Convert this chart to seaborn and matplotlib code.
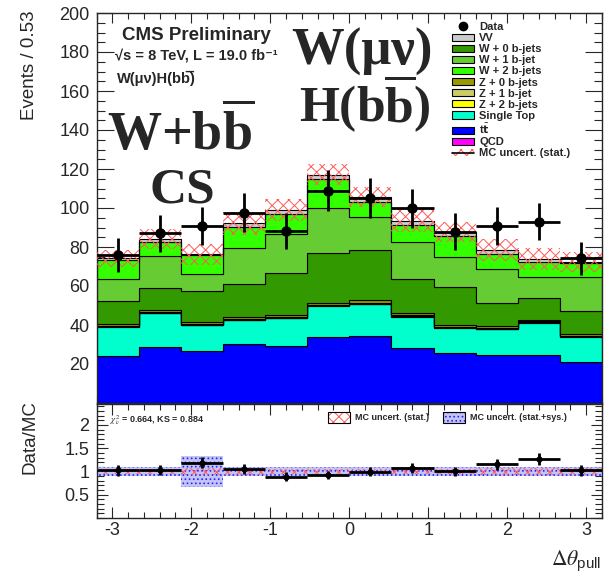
import numpy as np
import pandas as pd
import matplotlib
matplotlib.use("Agg")
import matplotlib.pyplot as plt
from matplotlib.patches import Patch
from matplotlib.lines import Line2D
from matplotlib.ticker import MultipleLocator, FixedLocator
import seaborn as sns

# binning of delta theta_pull (12 bins, width 0.53)
bin_edges = [-3.2, -2.6667, -2.1333, -1.6, -1.0667, -0.5333, 0.0,
             0.5333, 1.0667, 1.6, 2.1333, 2.6667, 3.2]

# stacked MC components, read per bin
ttbar      = [24.3, 28.9, 26.7, 30.1, 29.2, 34.0, 34.4, 28.0, 25.5, 24.6, 24.4, 21.2]
qcd        = [0.0, 0.0, 0.0, 0.0, 0.0, 0.0, 0.0, 0.0, 0.0, 0.0, 0.0, 0.0]
single_top = [14.8, 17.1, 13.3, 12.5, 14.2, 15.9, 16.4, 16.3, 13.1, 13.3, 16.8, 12.8]
z_2b       = [0.2, 0.2, 0.2, 0.2, 0.2, 0.2, 0.2, 0.2, 0.2, 0.2, 0.2, 0.2]
z_1b       = [0.4, 0.4, 0.4, 0.4, 0.4, 0.4, 0.4, 0.4, 0.4, 0.4, 0.4, 0.4]
z_0b       = [0.6, 1.0, 0.8, 1.0, 1.0, 0.8, 1.2, 1.2, 0.8, 1.0, 0.8, 0.8]
w_0b       = [12.0, 11.5, 16.2, 16.7, 21.8, 25.5, 25.9, 17.3, 19.3, 11.6, 11.4, 11.8]
w_1b       = [11.1, 16.3, 8.4, 18.8, 19.7, 23.4, 17.1, 19.3, 15.4, 17.4, 10.8, 17.6]
w_2b       = [9.9, 7.0, 9.9, 10.4, 10.4, 14.5, 7.6, 8.6, 10.9, 7.9, 7.7, 6.8]
vv         = [0.9, 1.5, 0.3, 2.0, 2.1, 2.4, 2.3, 2.2, 2.3, 2.1, 1.2, 0.9]

data_counts = [75.9, 87.0, 90.8, 97.6, 88.2, 108.9, 105.0, 99.8, 87.9, 90.8, 93.0, 74.2]
mc_stat_err = [4.3, 5.1, 5.2, 6.0, 5.6, 5.4, 5.2, 6.0, 5.1, 5.6, 5.6, 5.1]
ratio_syst_err = [0.10, 0.10, 0.34, 0.10, 0.10, 0.10, 0.10, 0.10, 0.10, 0.10, 0.10, 0.10]

# bottom -> top stacking order
stack = [
    ("tt", ttbar, "#0000ff"),
    ("QCD", qcd, "#ff00ff"),
    ("Single Top", single_top, "#00ffcc"),
    ("Z + 2 b-jets", z_2b, "#ffff00"),
    ("Z + 1 b-jet", z_1b, "#cccc66"),
    ("Z + 0 b-jets", z_0b, "#999900"),
    ("W + 0 b-jets", w_0b, "#339900"),
    ("W + 1 b-jet", w_1b, "#66cc33"),
    ("W + 2 b-jets", w_2b, "#33ff00"),
    ("VV", vv, "#cccccc"),
]
legend_order = ["VV", "W + 0 b-jets", "W + 1 b-jet", "W + 2 b-jets", "Z + 0 b-jets",
                "Z + 1 b-jet", "Z + 2 b-jets", "Single Top", "tt", "QCD"]

sns.set_theme(style="ticks")
plt.rcParams["font.family"] = ["Liberation Sans", "DejaVu Sans"]
plt.rcParams["axes.unicode_minus"] = False
plt.rcParams["mathtext.fontset"] = "custom"
plt.rcParams["mathtext.rm"] = "Liberation Serif:bold"
plt.rcParams["mathtext.bf"] = "Liberation Serif:bold"
plt.rcParams["mathtext.it"] = "Liberation Serif:bold"
plt.rcParams["hatch.linewidth"] = 0.7

edges = np.array(bin_edges)
centers = 0.5 * (edges[:-1] + edges[1:])
half = 0.5 * np.diff(edges)
data = np.array(data_counts)
total = np.sum([np.array(v) for _, v, _ in stack], axis=0)
stat = np.array(mc_stat_err)

rows = []
for name, vals, _ in stack:
    for c, v in zip(centers, vals):
        rows.append({"x": c, "w": v, "proc": name})
df = pd.DataFrame(rows)
palette = {name: col for name, _, col in stack}
hue_order = [name for name, _, _ in stack][::-1]  # seaborn stacks first level on top

W, H = 605, 577
fig = plt.figure(figsize=(W / 100, H / 100), dpi=100)
def fx(px): return px / W
def fy(py): return 1 - py / H

ax = fig.add_axes([fx(96.5), fy(403), (602 - 96.5) / W, 390 / H])
rax = fig.add_axes([fx(96.5), fy(518), (602 - 96.5) / W, 114 / H])

red = "#ff5a5a"
hatch_x = "xxx"

# ---- main panel
sns.histplot(data=df, x="x", weights="w", hue="proc", hue_order=hue_order, palette=palette,
             multiple="stack", bins=list(bin_edges), element="step", fill=True, alpha=1,
             edgecolor="black", linewidth=0.8, legend=False, ax=ax)
ax.bar(centers, 2 * stat, bottom=total - stat, width=2 * half, color="none",
       edgecolor=red, hatch=hatch_x, linewidth=0, zorder=3)
ax.errorbar(centers, data, yerr=np.sqrt(data), xerr=half, fmt="o", color="black",
            ms=6.5, elinewidth=2, capsize=0, zorder=4)

ax.set_xlim(-3.2, 3.2)
ax.set_ylim(0, 200)
ax.yaxis.set_major_locator(FixedLocator(np.arange(20, 201, 20)))
ax.yaxis.set_minor_locator(MultipleLocator(5))
ax.xaxis.set_major_locator(MultipleLocator(1))
ax.xaxis.set_minor_locator(MultipleLocator(0.2))
ax.set_xlabel("")
ax.set_ylabel("")
ax.tick_params(axis="x", which="both", direction="in", top=True, bottom=True, labelbottom=False)
ax.tick_params(axis="x", which="major", length=7, width=0.8)
ax.tick_params(axis="x", which="minor", length=4, width=0.8)
ax.tick_params(axis="y", which="both", direction="in", left=True, right=True, labelsize=13, pad=5)
ax.tick_params(axis="y", which="major", length=12, width=0.8)
ax.tick_params(axis="y", which="minor", length=6, width=0.8)
for s in ax.spines.values():
    s.set_linewidth(1)

# ---- ratio panel
ratio = data / total
rsys = np.array(ratio_syst_err)
rax.bar(centers, 2 * rsys, bottom=1 - rsys, width=2 * half, facecolor="#c4c4f4",
        edgecolor="#2222ff", hatch="....", linewidth=0, zorder=2)
rax.bar(centers, 2 * stat / total, bottom=1 - stat / total, width=2 * half, color="none",
        edgecolor=red, hatch=hatch_x, linewidth=0, zorder=3)
rax.errorbar(centers, ratio, yerr=np.sqrt(data) / total, xerr=half, fmt="o", color="black",
             ms=3.5, elinewidth=2, capsize=0, zorder=4)
rax.set_xlim(-3.2, 3.2)
rax.set_ylim(0, 2.45)
rax.yaxis.set_major_locator(FixedLocator([0.5, 1, 1.5, 2]))
rax.yaxis.set_minor_locator(MultipleLocator(0.1))
rax.yaxis.set_major_formatter(matplotlib.ticker.FuncFormatter(lambda v, p: f"{v:g}"))
rax.xaxis.set_major_locator(MultipleLocator(1))
rax.xaxis.set_minor_locator(MultipleLocator(0.2))
rax.tick_params(axis="both", which="both", direction="in", top=True, right=True, labelsize=13)
rax.tick_params(axis="x", which="major", length=8, width=0.8, pad=3)
rax.tick_params(axis="x", which="minor", length=4, width=0.8)
rax.tick_params(axis="y", which="major", length=8, width=0.8, pad=5)
rax.tick_params(axis="y", which="minor", length=5, width=0.8)
for s in rax.spines.values():
    s.set_linewidth(1)

# ---- axis titles
fig.text(fx(30), fy(10), "Events / 0.53", rotation=90, ha="center", va="top", fontsize=13.5)
fig.text(fx(30), fy(400), "Data/MC", rotation=90, ha="center", va="top", fontsize=13.5)
fig.text(fx(601), fy(565), r"$\Delta\theta_{\mathregular{pull}}$", ha="right", va="baseline",
         fontsize=15.5, math_fontfamily="stix")

# ---- labels
fig.text(fx(122), fy(40), "CMS Preliminary", fontsize=13.5, fontweight="bold", va="baseline")
fig.text(fx(115), fy(59), "\u221as = 8 TeV, L = 19.0 fb\u207b\u00b9", fontsize=10.5,
         fontweight="bold", va="baseline")
fig.text(fx(117), fy(83), "W(\u03bc\u03bd)H(bb\u0305)", fontsize=10.5, fontweight="bold",
         va="baseline")
fig.text(fx(362), fy(65), "W(\u03bc\u03bd)", fontsize=38, family="Liberation Serif",
         fontweight="bold", ha="center", va="baseline")
fig.text(fx(365), fy(122), r"$\mathbf{H(b\overline{b})}$", fontsize=37, ha="center", va="baseline")
fig.text(fx(181), fy(150), r"$\mathbf{W{+}b\overline{b}}$", fontsize=39, ha="center", va="baseline")
fig.text(fx(182), fy(203), "CS", fontsize=37, family="Liberation Serif", fontweight="bold",
         ha="center", va="baseline")

# ---- main legend
colors = {name: col for name, _, col in stack}
labels_txt = {"tt": r"t$\bar{\mathbf{t}}$"}
handles = [Line2D([], [], ls="none", marker="o", color="black", ms=6)]
labels = ["Data"]
for name in legend_order:
    handles.append(Patch(facecolor=colors[name], edgecolor="black", linewidth=0.8))
    labels.append(labels_txt.get(name, name))
handles.append((Patch(facecolor="white", edgecolor=red, hatch=hatch_x, linewidth=0),
                Line2D([], [], color="black", lw=1.2)))
labels.append("MC uncert. (stat.)")
leg = fig.legend(handles, labels, loc="upper left", bbox_to_anchor=(fx(452), fy(22)),
                 frameon=False, borderpad=0, borderaxespad=0,
                 prop={"family": ["Liberation Sans", "DejaVu Sans"], "weight": "bold", "size": 8.0},
                 handlelength=2.0, handleheight=0.62, handletextpad=0.45, labelspacing=0.1)
for t in leg.get_texts():
    t.set_math_fontfamily("dejavusans")

# ---- ratio labels
fig.text(fx(110), fy(423), r"$\chi^{2}_{\nu}$ = 0.664, KS = 0.884", fontsize=6.5,
         fontweight="bold", va="baseline", math_fontfamily="stix")
rhandles = [(Patch(facecolor="white", edgecolor=red, hatch=hatch_x, linewidth=0),
             Patch(facecolor="none", edgecolor="black", linewidth=0.8)),
            (Patch(facecolor="#c4c4f4", edgecolor="#2222ff", hatch="....", linewidth=0),
             Patch(facecolor="none", edgecolor="black", linewidth=0.8))]
fig.legend(rhandles, ["MC uncert. (stat.)", "MC uncert. (stat.+sys.)"], ncol=2,
           loc="upper left", bbox_to_anchor=(fx(328), fy(412)), frameon=False,
           borderpad=0, borderaxespad=0,
           prop={"family": "Liberation Sans", "weight": "bold", "size": 6.5},
           handlelength=2.4, handleheight=1.45, handletextpad=0.55, columnspacing=1.6)

fig.savefig("out.png", dpi=100)
